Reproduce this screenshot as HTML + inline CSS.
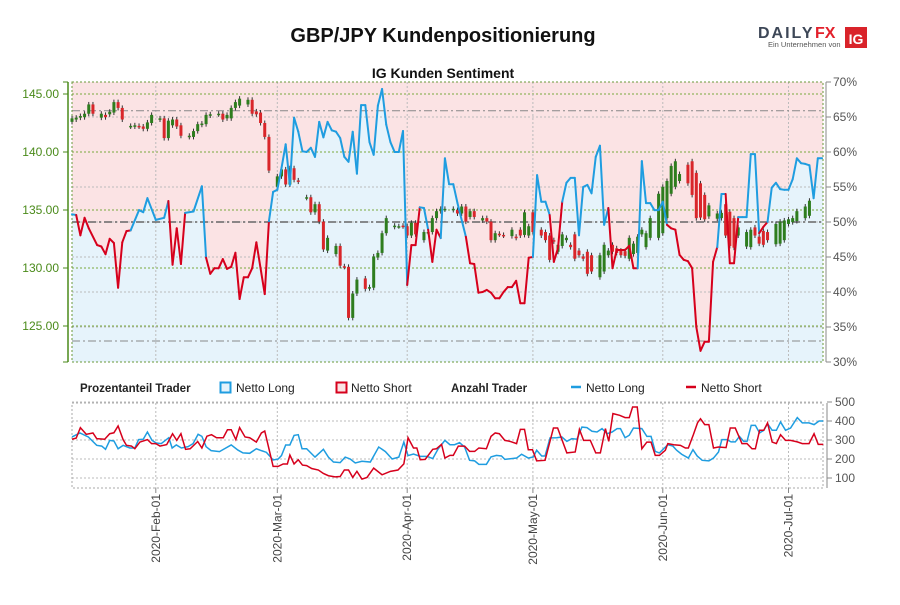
<!DOCTYPE html>
<html><head><meta charset="utf-8">
<style>
body{margin:0;background:#fff;width:900px;height:600px;overflow:hidden;font-family:"Liberation Sans",sans-serif;}
svg text{font-family:"Liberation Sans",sans-serif;}
</style></head>
<body>
<svg id="chart" width="900" height="600" xmlns="http://www.w3.org/2000/svg">
<text x="443" y="42" text-anchor="middle" font-size="20" font-weight="bold" fill="#111">GBP/JPY Kundenpositionierung</text>
<g>
<text x="758" y="38" font-size="16" font-weight="bold" fill="#3d4757" letter-spacing="2">DAILY</text>
<text x="815" y="38" font-size="16" font-weight="bold" fill="#e3202b">FX</text>
<text x="768" y="47" font-size="7.5" fill="#555">Ein Unternehmen von</text>
<rect x="845" y="27" width="22" height="21" fill="#d9232a"/>
<text x="856" y="44" text-anchor="middle" font-size="14" font-weight="bold" fill="#fff">IG</text>
</g>
<text x="443" y="78" text-anchor="middle" font-size="14" font-weight="bold" fill="#111">IG Kunden Sentiment</text>
<g id="main"></g>
<g id="lower"></g>
<g font-size="12" fill="#222">
<text x="80" y="392" font-weight="bold" font-size="11.5">Prozentanteil Trader</text>
<rect x="220.5" y="382.5" width="10" height="10" fill="#e6f3fb" stroke="#1f9de0" stroke-width="2"/>
<text x="236" y="392">Netto Long</text>
<rect x="336.5" y="382.5" width="10" height="10" fill="#fbe3e4" stroke="#d6001c" stroke-width="2"/>
<text x="351" y="392">Netto Short</text>
<text x="451" y="392" font-weight="bold" font-size="11.5">Anzahl Trader</text>
<line x1="571" y1="387" x2="581" y2="387" stroke="#1f9de0" stroke-width="2.5"/>
<text x="586" y="392">Netto Long</text>
<line x1="686" y1="387" x2="696" y2="387" stroke="#d6001c" stroke-width="2.5"/>
<text x="701" y="392">Netto Short</text>
</g>
</svg>
<script>
// ---- data ----
const monthLabels = ["2020-Feb-01","2020-Mar-01","2020-Apr-01","2020-May-01","2020-Jun-01","2020-Jul-01"];
const monthDays = [20,49,80,110,141,171]; // days since 2020-01-12
const priceTicks = [145,140,135,130,125];
const pctTicks = [70,65,60,55,50,45,40,35,30];
const countTicks = [500,400,300,200,100];
const refLevels = [65.9,50,33];
const sentDays = [0,1,2,3,4,6,7,8,9,10,11,12,13,14,16,17,18,20,22,23,24,25,26,27,29,31,32,33,34,35,36,37,38,39,40,41,42,43,44,46,47,48,49,50,51,52,53,54,55,56,57,58,59,60,61,62,63,64,65,66,67,68,69,70,71,72,73,74,75,76,77,78,79,80,81,82,83,84,85,86,87,88,89,90,91,92,94,95,96,97,98,99,100,101,102,103,104,105,106,107,108,109,110,111,112,113,114,115,116,117,118,119,120,121,122,123,124,125,126,127,128,129,130,131,132,133,134,135,136,137,138,139,140,141,142,143,144,145,146,147,148,149,150,151,152,153,154,155,156,157,158,159,160,161,162,163,164,165,166,167,168,169,170,171,172,173,174,175,176,177,178,179];
const sentLong = [51.1,51,48.1,50.6,49.1,46.7,46.5,45.4,47.6,47,40.6,47.1,48.7,48.8,51.7,51.4,53.4,50.3,50.6,53,43.9,49.1,44,51.3,51.5,55.1,44.9,42.6,43.4,43.4,44.7,43.3,43.6,45.6,39,42.1,42.1,43.4,47.1,39.7,50.1,54.3,54.6,57.7,61.1,55.3,64.9,62.9,60.1,60,60.6,59.3,64.3,62.1,64.3,63.1,62.9,62,59.3,58.6,62.9,56.9,66.7,66.7,61.4,59.6,66.6,69,63.9,61.4,60,60,63,41,46.7,46.7,52.1,52,48.9,44.3,48.9,47.7,59.1,55.4,55.4,52.7,47.9,44.1,44,39.9,40,40.3,39.9,39.1,39.1,40,40.7,40.7,41.6,38.4,38.4,44.9,45,56.7,52.9,52.9,51,44.3,46.3,52.9,55.6,56.3,56.3,48.1,55,55.3,54.1,59.3,60.9,49.6,52,43.4,46,46,46,46.6,43.4,43.4,58.7,52.7,52.7,51.7,51.7,52.9,49.6,49.1,48.9,45.3,44.6,44.4,43.4,35,31.6,32.9,32.9,44.3,46.4,54,54,44.1,44.1,50.7,50.7,50.7,59.7,59.7,48.4,49.3,50,54.9,55.6,54.7,54.6,54.6,56.1,59.1,58.4,58.3,58.1,53.4,59.1,59.1];
const candleDays = [0,1,2,3,4,5,7,8,9,10,11,12,14,15,16,17,18,19,21,22,23,24,25,26,28,29,30,31,32,33,35,36,37,38,39,40,42,43,44,45,46,47,49,50,51,52,53,54,56,57,58,59,60,61,63,64,65,66,67,68,70,71,72,73,74,75,77,78,79,80,81,82,84,85,86,87,88,89,91,92,93,94,95,96,98,99,100,101,102,103,105,106,107,108,109,110,112,113,114,115,116,117,118,119,120,121,122,123,124,126,127,128,129,130,131,132,133,134,135,136,137,138,140,141,142,143,144,145,147,148,149,150,151,152,154,155,156,157,158,159,161,162,163,164,165,166,168,169,170,171,172,173,175,176,177,178,179];
const candleOpen = [142.6,142.8,142.96,143.0,143.3,144.1,142.96,143.2,143.25,143.4,144.3,143.8,142.2,142.2,142.25,142.2,142.0,142.5,142.8,142.9,141.2,142.3,142.8,142.3,141.3,141.3,141.8,142.35,142.4,143.15,143.25,143.3,142.9,142.9,143.8,144.0,144.1,144.5,143.5,143.4,142.5,141.3,137.0,137.9,138.5,137.2,138.6,137.55,136.05,136.1,134.8,135.5,134.0,131.5,131.2,131.9,130.15,130.1,125.7,127.8,129.1,128.25,128.3,130.9,131.3,133.0,133.55,133.6,133.65,133.6,132.8,133.9,132.4,133.1,133.1,134.3,134.9,135.05,135.0,135.0,134.7,135.3,134.4,134.9,134.1,134.3,134.0,132.4,132.95,132.85,132.75,132.7,133.3,132.85,132.8,134.8,133.3,133.1,132.8,132.4,131.4,131.9,132.4,132.0,132.9,131.5,131.0,131.4,131.1,129.2,129.7,131.1,132.0,131.7,131.5,131.45,130.8,131.2,131.3,132.9,131.8,132.6,132.6,133.0,134.3,136.4,137.0,137.5,138.9,139.2,138.2,137.3,136.3,134.45,134.25,134.3,135.5,134.85,134.3,132.8,131.85,131.8,133.5,132.7,133.2,133.1,132.05,132.1,132.4,133.8,133.95,134.05,134.3,134.5,134.1,134.9,135.3];
const candleClose = [142.9,142.96,143.1,143.3,144.1,143.3,143.3,143.0,143.47,144.3,143.8,142.8,142.25,142.3,142.2,142.0,142.55,143.2,142.9,141.2,142.7,142.8,142.2,141.4,141.4,141.8,142.4,142.45,143.2,143.25,143.3,142.8,143.2,143.8,144.3,144.6,144.5,143.3,143.25,142.5,141.3,138.4,137.9,138.5,137.2,138.6,137.6,137.45,136.1,134.8,135.5,134.0,131.6,132.6,131.9,130.2,130.1,125.7,127.8,129.0,128.2,128.35,131.0,131.3,133.0,134.3,133.65,133.6,133.6,132.8,133.9,132.9,133.1,133.1,134.3,134.9,135.1,135.1,135.1,134.7,135.3,134.0,134.9,134.4,134.3,134.0,132.4,133.0,132.9,132.8,133.3,132.6,132.8,134.8,133.6,133.1,132.8,132.4,130.7,132.3,132.0,132.9,132.6,131.8,130.8,131.1,130.8,129.5,129.7,131.1,132.0,131.5,131.4,131.3,131.1,131.05,132.6,132.1,132.7,133.3,133.0,134.3,136.4,137.0,137.5,138.8,139.2,138.1,137.3,136.3,134.3,134.35,134.2,135.4,134.7,134.75,132.8,131.9,131.75,133.5,133.1,133.3,132.8,132.1,132.0,132.4,133.8,134.0,134.1,134.2,134.3,134.9,135.3,135.8];
const countDaysLong = [0,1.9,3.9,5.9,7.1,8,9,10,11,12.2,13.8,15,15.9,17,18,19.1,20.1,21.3,23.1,23.9,24.9,26.1,27.7,28.9,30.1,31,32,33.2,35.2,36.4,38,39.6,40.8,42.4,44,45.2,46.4,48,49.2,50,51,52,53,54,54.9,56,58,60,61.2,62.4,64,65.2,66.4,67.6,69.2,71.2,73.2,74.8,76.4,78,79.2,80.2,81.5,83.1,84.7,86.1,87.4,89,90.2,91.3,92.5,93.7,94.9,96.1,97.1,98.9,100,101.3,102.5,103.3,104.9,106.1,107.3,108.9,110.1,110.9,112.1,112.9,114.1,115.7,116.9,118.1,119.3,120.5,121.7,122.9,124.1,125.3,126.5,127.7,128.9,130.1,130.9,132,133,134,136,137.2,138.2,139.2,140.2,141.2,142.2,143.4,144.3,145.5,147.1,148.2,149.2,150.4,152,153.1,154.3,155.1,156.3,157.3,158.3,159.3,160.3,161.1,162.1,163.1,164.1,165.1,166,167.1,168.1,169.1,170.3,171.5,173.1,174.3,175.9,177.1,178.3,179.3];
const countLong = [316,337,316,272,268,251,298,295,254,272,258,258,302,304,342,298,284,281,312,258,274,258,265,281,330,319,265,244,239,254,274,247,232,230,254,244,235,195,200,218,274,274,324,328,254,254,210,251,210,184,181,210,200,179,188,184,263,239,200,210,289,218,226,214,214,202,254,298,275,275,286,263,193,190,172,172,211,219,216,198,202,205,225,205,211,246,216,216,311,312,316,293,307,304,368,365,346,342,360,333,342,360,360,312,325,363,360,319,319,240,232,254,275,268,246,225,205,249,216,193,190,205,237,302,302,290,290,319,293,293,377,377,337,351,386,351,351,395,351,363,418,390,390,381,400,400];
const countDaysShort = [0,1,2,3.4,5,5.9,7.8,9,10,11,12.2,13,14.2,15,16.2,18,19,20,21,22.6,24,25,26,27.1,28.2,30,31,32.2,33.3,34.5,36.1,37.1,38,39.1,40,41.3,42.4,44,45.2,46,48,49.2,50.4,51.4,52,53,54,55,56,57.2,58.8,60,61.2,62.8,64,65,66,67,68,69.2,70.4,72,74,76,77.8,79.2,80.2,81.5,82.3,83.1,84.3,86.1,87,88.2,89,90.2,91,92.2,93.7,94.9,96.1,97.1,98.9,100,101,102,103.3,104.5,106.1,107,108,108.9,109.9,110.9,112.9,114.9,115.9,118.1,120.1,121.1,122.1,123.7,125,126.1,127.3,128.1,129.1,130.7,132,133,133.8,134.9,136,137.2,138.2,139.2,140.2,141.6,142.2,143.6,145.2,146.4,147.1,148.3,149.3,150,151,152,153.1,154.3,156.1,157.1,158.3,159.9,161.1,162.3,163.1,164.1,165.1,166,167.1,168.1,169.1,170.3,171.5,173.1,174.3,175.9,177.1,178.1,179.3];
const countShort = [304,310,365,330,337,307,304,333,338,374,302,272,268,254,289,302,281,281,268,276,333,298,333,251,254,292,258,320,328,312,312,354,354,302,365,316,312,289,337,347,161,161,174,174,221,174,196,168,165,150,142,124,112,106,108,142,142,103,135,94,103,152,117,135,142,174,312,258,258,196,198,251,254,277,205,219,219,268,268,240,240,258,254,319,337,333,298,293,281,356,356,249,249,190,193,363,363,232,237,356,298,298,232,232,360,293,439,430,418,418,474,474,254,289,289,219,219,246,281,275,272,258,258,328,391,412,381,381,258,263,260,363,363,281,281,254,254,351,351,390,289,281,328,298,298,290,281,281,333,277,277];

// ---- geometry ----
const NS='http://www.w3.org/2000/svg';
const X0=72, X1=823, DAYPX=4.19;
const PY0=82, PY1=362;
const LY0=403, LY1=488;
const xScale = d => X0 + d*DAYPX;
const pctY = p => PY0 + (70-p)*7;
const priceY = v => 94 + (145-v)*11.6;
const countY = c => 497 - c*0.19;
function el(tag, attrs, parent){const e=document.createElementNS(NS,tag);for(const k in attrs)e.setAttribute(k,attrs[k]);parent.appendChild(e);return e;}
const main=document.getElementById('main');
const lower=document.getElementById('lower');

const bg=el('rect',{x:X0,y:PY0,width:X1-X0,height:PY1-PY0,fill:'#fbe3e4'},main);


const lastX=xScale(sentDays[sentDays.length-1]);
let pts=`${X0},${PY1} `+sentDays.map((d,i)=>`${xScale(d)},${pctY(sentLong[i])}`).join(' ')+` ${X1},${pctY(sentLong[sentLong.length-1])} ${X1},${PY1}`;
const area=el('polygon',{points:pts,fill:'#e6f3fb'},main);


pctTicks.forEach(p=>{
  const g=el('line',{x1:X0,x2:X1,y1:pctY(p),y2:pctY(p),stroke:'#bbb','stroke-dasharray':'2,2','stroke-width':1},main);
  
  
});
priceTicks.forEach(v=>{
  const g=el('line',{x1:X0,x2:X1,y1:priceY(v),y2:priceY(v),stroke:'#7aa83e','stroke-dasharray':'2,2','stroke-width':1},main);
  
  
});
monthDays.forEach(d=>{
  const g=el('line',{x1:xScale(d),x2:xScale(d),y1:PY0,y2:PY1,stroke:'#bbb','stroke-dasharray':'2,2'},main);
  
  
});
refLevels.forEach((p,i)=>{
  const g=el('line',{x1:X0,x2:X1,y1:pctY(p),y2:pctY(p),stroke:i==1?'#666':'#888','stroke-dasharray':'8,3,2,3','stroke-width':i==1?1.5:1},main);
  
  
});
const bd=el('rect',{x:X0,y:PY0,width:X1-X0,height:PY1-PY0,fill:'none',stroke:'#6a9a3a','stroke-dasharray':'2,2'},main);


const la=el('line',{x1:68,x2:68,y1:82,y2:362,stroke:'#4a8a1a','stroke-width':1.5},main);


priceTicks.forEach(v=>{
  el('line',{x1:63,x2:68,y1:priceY(v),y2:priceY(v),stroke:'#4a8a1a'},main);
  const t=el('text',{x:59,y:priceY(v)+4,'text-anchor':'end','font-size':12,fill:'#4a8a1a'},main);
  t.textContent=v.toFixed(2);
  
  
});
el('line',{x1:63,x2:68,y1:82,y2:82,stroke:'#4a8a1a'},main);
el('line',{x1:63,x2:68,y1:362,y2:362,stroke:'#4a8a1a'},main);
const ra=el('line',{x1:826,x2:826,y1:82,y2:362,stroke:'#888'},main);


pctTicks.forEach(p=>{
  el('line',{x1:826,x2:831,y1:pctY(p),y2:pctY(p),stroke:'#888'},main);
  const t=el('text',{x:833,y:pctY(p)+4,'font-size':12,fill:'#555'},main);
  t.textContent=p+'%';
  
  
});
candleDays.forEach((d,i)=>{
  const o=candleOpen[i], c=candleClose[i];
  const x=xScale(d);
  const top=priceY(Math.max(o,c)), bot=priceY(Math.min(o,c));
  const w=el('line',{x1:x,x2:x,y1:top-2.5,y2:bot+2.5,stroke:'#333','stroke-width':1},main);
  
  
  const b=el('rect',{x:x-1.5,y:top,width:3,height:Math.max(1.5,bot-top),fill:c>=o?'#2e7d1e':'#d9262a'},main);
  
  
});
for(let i=0;i<sentDays.length-1;i++){
  const a=sentLong[i], b=sentLong[i+1];
  const seg=el('line',{x1:xScale(sentDays[i]),y1:pctY(a),x2:xScale(sentDays[i+1]),y2:pctY(b),stroke:((a+b)/2>=50)?'#1f9de0':'#d6001c','stroke-width':2,'stroke-linecap':'round'},main);
  
  
}

// ---- lower chart ----
countTicks.forEach(c=>{
  const g=el('line',{x1:X0,x2:X1,y1:countY(c),y2:countY(c),stroke:'#bbb','stroke-dasharray':'2,2'},lower);
  
  
});
monthDays.forEach((d,i)=>{
  const g=el('line',{x1:xScale(d),x2:xScale(d),y1:LY0,y2:LY1,stroke:'#bbb','stroke-dasharray':'2,2'},lower);
  
  
  el('line',{x1:xScale(d),x2:xScale(d),y1:LY1,y2:LY1+5,stroke:'#888'},lower);
  const t=el('text',{x:0,y:0,'font-size':12,fill:'#444','text-anchor':'end',transform:`translate(${xScale(d)+4},${LY1+6}) rotate(-90)`},lower);
  t.textContent=monthLabels[i];
  
  
});
const lb=el('rect',{x:X0,y:LY0,width:X1-X0,height:LY1-LY0,fill:'none',stroke:'#aaa','stroke-dasharray':'2,2'},lower);


const lra=el('line',{x1:827,x2:827,y1:LY0,y2:LY1,stroke:'#888'},lower);


countTicks.forEach(c=>{
  el('line',{x1:827,x2:832,y1:countY(c),y2:countY(c),stroke:'#888'},lower);
  const t=el('text',{x:835,y:countY(c)+4,'font-size':12,fill:'#555'},lower);
  t.textContent=c;
  
  
});
const lp=el('polyline',{points:countDaysLong.map((d,i)=>`${xScale(d)},${countY(countLong[i])}`).join(' '),fill:'none',stroke:'#1f9de0','stroke-width':1.5},lower);


const sp=el('polyline',{points:countDaysShort.map((d,i)=>`${xScale(d)},${countY(countShort[i])}`).join(' '),fill:'none',stroke:'#d6001c','stroke-width':1.5},lower);


</script>
</body></html>
